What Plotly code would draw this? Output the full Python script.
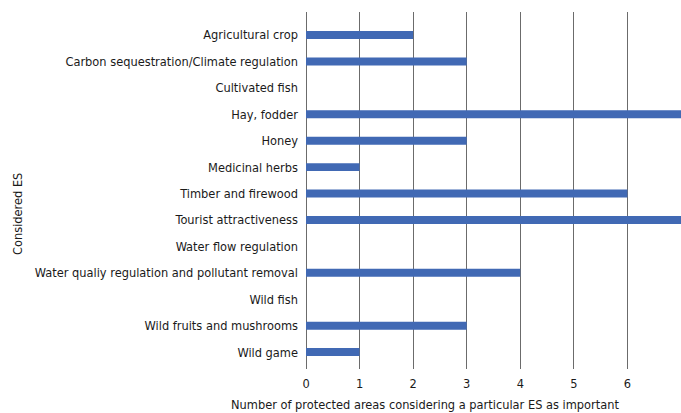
import plotly.graph_objects as go

categories = [
    "Agricultural crop",
    "Carbon sequestration/Climate regulation",
    "Cultivated fish",
    "Hay, fodder",
    "Honey",
    "Medicinal herbs",
    "Timber and firewood",
    "Tourist attractiveness",
    "Water flow regulation",
    "Water qualiy regulation and pollutant removal",
    "Wild fish",
    "Wild fruits and mushrooms",
    "Wild game",
]
values = [2, 3, 0, 7, 3, 1, 6, 7, 0, 4, 0, 3, 1]
x_ticks = [0, 1, 2, 3, 4, 5, 6, 7]

FONT = "DejaVu Sans Condensed, Liberation Sans Narrow, sans-serif"
FS = 12.7
TXT = "#1a1a1a"

W, H = 681, 413
L, R, T, B = 306, 0, 12, 44
PW, PH = W - L - R, H - T - B

fig = go.Figure()
fig.add_trace(go.Bar(
    x=values,
    y=list(range(len(categories))),
    orientation="h",
    width=0.3,
    marker=dict(color="#4169B4", line=dict(width=0)),
))

fig.update_layout(
    width=W,
    height=H,
    margin=dict(l=L, r=R, t=T, b=B),
    paper_bgcolor="white",
    plot_bgcolor="white",
    showlegend=False,
    font=dict(family=FONT, size=FS, color=TXT),
    xaxis=dict(
        range=[0, 7],
        tickvals=x_ticks,
        ticktext=[str(v) for v in x_ticks],
        showgrid=True,
        gridcolor="#6b6b6b",
        gridwidth=1,
        zeroline=True,
        zerolinecolor="#6b6b6b",
        zerolinewidth=1,
        showline=False,
        ticks="",
        ticklabelstandoff=5,
        tickfont=dict(size=FS, family=FONT, color=TXT),
        fixedrange=True,
    ),
    yaxis=dict(
        range=[12.64, -0.87],
        tickvals=list(range(len(categories))),
        ticktext=categories,
        showgrid=False,
        zeroline=False,
        showline=False,
        ticks="",
        ticklabelstandoff=7,
        tickfont=dict(size=FS, family=FONT, color=TXT),
        fixedrange=True,
    ),
    annotations=[
        dict(
            text="Number of protected areas considering a particular ES as important",
            x=(425 - L) / PW, y=(H - 404 - B) / PH,
            xref="paper", yref="paper", xanchor="center", yanchor="middle",
            showarrow=False,
            font=dict(size=FS, family=FONT, color=TXT),
        ),
        dict(
            text="Considered ES",
            x=(17 - L) / PW, y=(H - 214 - B) / PH,
            xref="paper", yref="paper", xanchor="center", yanchor="middle",
            showarrow=False, textangle=-90,
            font=dict(size=FS, family=FONT, color=TXT),
        ),
    ],
)

fig.write_html(
    "out.html",
    config={"displayModeBar": False},
    post_script="document.body.style.margin='0';document.body.style.overflow='hidden';",
)
